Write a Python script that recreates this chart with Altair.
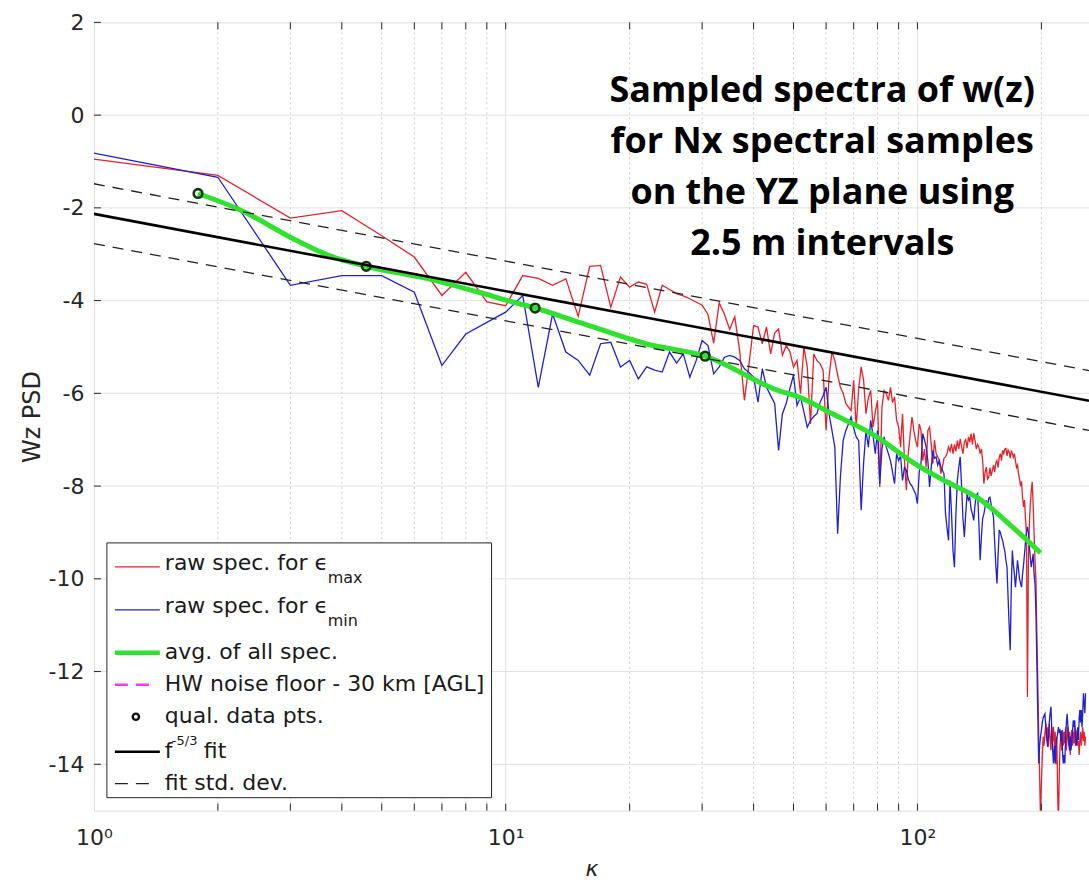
import altair as alt
import pandas as pd

# ---------------- data ----------------
k = list(range(1, 257))

red = [
    -0.95, -1.30, -2.22, -2.06, -2.60, -3.06, -3.89, -3.39, -4.03, -4.11,
    -3.46, -3.52, -3.67, -3.53, -4.34, -3.26, -3.24, -4.14, -3.49, -3.71,
    -3.60, -3.65, -4.25, -3.67, -3.76, -3.85, -3.90, -3.96, -4.03, -4.10,
    -4.30, -4.92, -4.05, -4.30, -4.62, -4.35, -5.08, -6.15, -5.36, -4.54,
    -4.57, -4.93, -4.57, -5.15, -4.70, -4.61, -5.18, -4.97, -5.10, -5.43,
    -5.29, -6.01, -5.00, -5.43, -6.66, -5.15, -5.29, -5.36, -5.50, -6.80,
    -5.65, -5.11, -5.29, -5.60, -5.87, -6.00, -6.22, -6.30, -6.37, -5.72,
    -6.73, -5.90, -5.43, -5.72, -6.44, -6.10, -5.94, -6.73, -6.40, -6.15,
    -8.02, -6.30, -5.94, -6.01, -6.15, -5.87, -6.20, -6.08, -6.58, -6.73,
    -7.16, -6.44, -7.45, -8.09, -7.30, -6.90, -6.51, -6.80, -7.02, -7.16,
    -6.66, -6.80, -7.45, -7.20, -7.59, -6.80, -6.73, -7.09, -7.52, -7.01,
    -7.30, -7.37, -7.45, -7.73, -7.59, -7.40, -7.37, -7.30, -7.16, -7.25,
    -7.09, -7.30, -7.10, -7.25, -7.02, -7.20, -6.98, -7.15, -7.30, -7.05,
    -7.00, -7.18, -6.94, -7.05, -6.87, -7.10, -6.86, -7.02, -7.20, -7.10,
    -7.16, -7.30, -7.20, -7.45, -7.95, -7.70, -7.59, -7.85, -7.81, -7.60,
    -7.78, -7.66, -7.55, -7.70, -7.50, -7.45, -7.60, -7.38, -7.30, -7.45,
    -7.23, -7.30, -7.20, -7.19, -7.35, -7.22, -7.27, -7.40, -7.23, -7.30,
    -7.38, -7.30, -7.45, -7.60, -7.55, -7.73, -7.85, -8.00, -7.90, -8.24,
    -8.45, -8.30, -8.70, -9.03, -12.55, -9.60, -8.81, -8.40, -8.10, -7.91,
    -8.40, -9.03, -9.60, -10.03, -11.20, -12.19, -13.34, -14.20, -15.20, -14.40,
    -13.84, -13.40, -13.60, -13.34, -13.10, -13.50, -13.20, -13.62, -13.12, -13.40,
    -13.70, -13.20, -13.50, -13.19, -13.62, -13.30, -14.00, -13.40, -14.60, -15.30,
    -14.20, -13.60, -13.30, -13.70, -13.26, -13.60, -13.30, -13.55, -13.20, -13.70,
    -13.40, -13.19, -13.60, -13.30, -13.80, -13.40, -13.26, -13.60, -13.30, -13.55,
    -13.20, -13.60, -13.40, -13.26, -13.60, -13.50, -13.80, -13.48, -13.30, -13.60,
    -13.40, -13.20, -13.50, -13.30, -13.60, -13.40,
]

blue = [
    -0.82, -1.34, -3.67, -3.46, -3.46, -3.82, -5.40, -4.72, -4.47, -4.25,
    -3.89, -5.87, -4.29, -5.11, -5.29, -5.61, -4.93, -4.90, -5.43, -5.29,
    -5.69, -5.43, -5.50, -5.54, -5.11, -5.35, -5.15, -5.65, -5.30, -4.86,
    -4.97, -5.58, -5.43, -5.22, -5.18, -5.22, -5.29, -5.47, -5.55, -5.65,
    -6.19, -5.47, -5.87, -6.05, -6.22, -7.23, -6.44, -6.22, -5.90, -5.61,
    -6.26, -6.08, -6.40, -6.73, -6.58, -6.50, -6.44, -6.20, -6.05, -5.87,
    -6.44, -6.80, -7.16, -9.03, -7.80, -7.02, -6.80, -6.66, -6.51, -6.75,
    -6.94, -7.02, -8.52, -7.50, -6.80, -7.16, -6.58, -6.90, -7.30, -6.80,
    -7.95, -7.20, -6.94, -7.16, -7.30, -7.45, -7.70, -7.95, -7.30, -7.45,
    -7.35, -7.88, -7.60, -7.66, -7.85, -7.95, -8.00, -8.09, -8.17, -8.38,
    -7.70, -7.52, -6.87, -7.00, -7.16, -7.45, -8.02, -7.60, -7.23, -7.40,
    -7.37, -7.55, -7.45, -7.59, -7.66, -7.73, -8.60, -8.90, -9.17, -7.88,
    -8.60, -9.40, -9.75, -8.60, -7.88, -7.60, -7.37, -8.00, -8.70, -9.10,
    -8.60, -8.16, -8.30, -8.24, -8.50, -8.60, -8.74, -8.40, -8.20, -8.16,
    -8.80, -9.60, -9.10, -8.70, -8.60, -8.45, -8.31, -8.45, -8.26, -8.24,
    -8.40, -8.55, -8.67, -9.20, -9.70, -10.10, -9.50, -8.95, -9.00, -9.10,
    -9.17, -9.30, -9.40, -9.60, -9.75, -10.40, -11.00, -11.54, -10.20, -9.39,
    -9.70, -9.90, -10.18, -9.90, -9.60, -9.80, -10.00, -10.10, -10.18, -9.90,
    -9.70, -9.46, -9.20, -9.00, -8.88, -9.00, -9.30, -9.55, -9.75, -9.60,
    -9.46, -9.90, -10.10, -10.75, -11.80, -12.91, -13.98, -13.60, -13.40, -13.27,
    -13.10, -13.00, -12.95, -12.91, -13.20, -13.40, -13.62, -13.40, -13.10, -12.90,
    -12.76, -13.30, -13.70, -13.98, -13.60, -13.98, -13.60, -13.45, -13.34, -13.20,
    -13.30, -13.27, -13.50, -13.27, -13.70, -13.98, -13.80, -13.98, -13.40, -13.10,
    -12.91, -13.20, -13.50, -13.70, -13.40, -13.70, -13.50, -13.30, -13.05, -13.20,
    -13.05, -13.40, -13.60, -13.48, -13.20, -13.48, -13.00, -12.83, -13.10, -12.83,
    -13.20, -12.90, -12.47, -12.70, -12.90, -12.47,
]

avg_k = [1.79, 2.26, 3.1, 3.73, 4.585, 6.5, 8.6, 10.4, 11.79, 15.1, 21.9, 30.5,
         46, 51.6, 62.1, 74.8, 80, 97, 116, 141, 170, 199]
avg_v = [-1.69, -2.04, -2.70, -3.03, -3.26, -3.53, -3.82, -4.03, -4.16, -4.47, -4.93, -5.20,
         -5.94, -6.08, -6.44, -6.80, -6.95, -7.48, -7.88, -8.27, -8.88, -9.44]

qual_k = [1.79, 4.585, 11.79, 30.5]
qual_v = [-1.69, -3.26, -4.16, -5.20]

fit_k = [1, 261]
fit_v = [-2.13, -6.16]
fit_hi = [-1.48, -5.51]
fit_lo = [-2.77, -6.80]

x_labels = ["10\u2070", "10\u00b9", "10\u00b2"]
x_label_vals = [1, 10, 100]
y_label_vals = [2, 0, -2, -4, -6, -8, -10, -12, -14]
x_minor = [2, 3, 4, 5, 6, 7, 8, 9, 20, 30, 40, 50, 60, 70, 80, 90, 200]
x_major = [10, 100]

title_lines = ["Sampled spectra of w(z)", "for Nx spectral samples",
               "on the YZ plane using", "2.5 m intervals"]

# ---------------- styling ----------------
RED = "#e4222a"
BLUE = "#2020d0"
GREEN = "#2ee22e"
AX = "#262626"
FONT = "DejaVu Sans"

label_expr = ("datum.value == 1 ? '%s' : datum.value == 10 ? '%s' : '%s'"
              % tuple(x_labels))

xs = alt.Scale(type="log", domain=[1, 261], nice=False)
ys = alt.Scale(domain=[-15, 2], nice=False, zero=False)

xaxis = alt.Axis(values=x_label_vals, labelExpr=label_expr, ticks=False, tickSize=0,
                 domain=False, grid=False, labelFontSize=22, labelFont=FONT,
                 labelColor=AX, labelPadding=17, labelFlush=False, labelOverlap=False,
                 title="\u03ba", titleFont=FONT, titleFontStyle="italic",
                 titleFontWeight="normal", titleFontSize=22, titleColor=AX,
                 titlePadding=10)
yaxis = alt.Axis(values=y_label_vals, labelExpr="'' + datum.value", ticks=False,
                 tickSize=0, domain=False, grid=False, labelFontSize=22, labelFont=FONT,
                 labelColor=AX, labelPadding=10, labelFlush=False, labelOverlap=False,
                 title="Wz PSD", titleFont=FONT, titleFontWeight="normal",
                 titleFontSize=24, titleColor=AX, titlePadding=4)


def X(f):
    return alt.X(f, type="quantitative", scale=xs, axis=xaxis)


def Y(f):
    return alt.Y(f, type="quantitative", scale=ys, axis=yaxis)


spec = pd.DataFrame({"k": k, "red": red, "blue": blue})
avg = pd.DataFrame({"k": avg_k, "v": avg_v})
qual = pd.DataFrame({"k": qual_k, "v": qual_v})
fit = pd.DataFrame({"k": fit_k, "v": fit_v, "hi": fit_hi, "lo": fit_lo})
one = pd.DataFrame({"o": [0]})

# grid
ygrid = alt.Chart(pd.DataFrame({"v": y_label_vals[1:]})).mark_rule(
    color="#e1e1e1", strokeWidth=1).encode(y=Y("v"))
xgrid_major = alt.Chart(pd.DataFrame({"v": x_major})).mark_rule(
    color="#e1e1e1", strokeWidth=1).encode(x=X("v"))
xgrid_minor = alt.Chart(pd.DataFrame({"v": x_minor})).mark_rule(
    color="#cdcdcd", strokeWidth=1, strokeDash=[2, 3]).encode(x=X("v"))

# inward ticks
xt = pd.DataFrame({"v": x_minor + x_major})
tick_bottom = alt.Chart(xt).mark_rule(color=AX, strokeWidth=1).encode(
    x=X("v"), y=alt.value(789), y2=alt.value(782))
tick_top = alt.Chart(xt).mark_rule(color=AX, strokeWidth=1).encode(
    x=X("v"), y=alt.value(0), y2=alt.value(7))
tick_left = alt.Chart(pd.DataFrame({"v": y_label_vals})).mark_rule(
    color=AX, strokeWidth=1).encode(y=Y("v"), x=alt.value(0), x2=alt.value(7))

# data layers
red_line = alt.Chart(spec).mark_line(color=RED, strokeWidth=1.3, clip=True).encode(
    x=X("k"), y=Y("red"))
blue_line = alt.Chart(spec).mark_line(color=BLUE, strokeWidth=1.3, clip=True).encode(
    x=X("k"), y=Y("blue"))
avg_line = alt.Chart(avg).mark_line(color=GREEN, strokeWidth=5, clip=True,
                                    interpolate="monotone").encode(x=X("k"), y=Y("v"))
qual_pts = alt.Chart(qual).mark_point(shape="circle", size=75, filled=False,
                                      color="#123812", strokeWidth=2.6,
                                      opacity=1).encode(x=X("k"), y=Y("v"))
fit_line = alt.Chart(fit).mark_line(color="black", strokeWidth=2.6, clip=True).encode(
    x=X("k"), y=Y("v"))
fit_hi_line = alt.Chart(fit).mark_line(color="#222222", strokeWidth=1.3,
                                       strokeDash=[11, 8], clip=True).encode(
    x=X("k"), y=Y("hi"))
fit_lo_line = alt.Chart(fit).mark_line(color="#222222", strokeWidth=1.3,
                                       strokeDash=[11, 8], clip=True).encode(
    x=X("k"), y=Y("lo"))

# legend
box = alt.Chart(one).mark_rect(fill="white", stroke=AX, strokeWidth=1).encode(
    x=alt.value(13), x2=alt.value(398), y=alt.value(521), y2=alt.value(776))


def lg_line(y, color, width, x2=66, dash=None):
    kw = dict(color=color, strokeWidth=width)
    if dash is not None:
        kw["strokeDash"] = dash
    return alt.Chart(one).mark_rule(**kw).encode(
        x=alt.value(21), x2=alt.value(x2), y=alt.value(y))


def lg_text(txt, x, y, size=22):
    return alt.Chart(one).mark_text(text=txt, align="left", baseline="alphabetic",
                                    font=FONT, fontSize=size, color="#1a1a1a").encode(
        x=alt.value(x), y=alt.value(y))


legend = [
    box,
    lg_line(545, RED, 1.2),
    lg_text("raw spec. for \u03f5", 71, 548),
    lg_text("max", 234, 561, 16),
    lg_line(588, BLUE, 1.2),
    lg_text("raw spec. for \u03f5", 71, 591),
    lg_text("min", 234, 604, 16),
    lg_line(631, GREEN, 4.5),
    lg_text("avg. of all spec.", 71, 637),
    lg_line(663, "#f03cf0", 2.5, x2=55, dash=[13, 8]),
    lg_text("HW noise floor - 30 km [AGL]", 71, 669),
    alt.Chart(one).mark_point(shape="circle", size=40, filled=False, color="#111111",
                              strokeWidth=2.4, opacity=1).encode(
        x=alt.value(42), y=alt.value(695)),
    lg_text("qual. data pts.", 71, 701),
    lg_line(730, "black", 2.6),
    lg_text("f", 71, 736),
    lg_text("-5/3", 78, 723, 13),
    lg_text("fit", 110, 736),
    lg_line(762, "#222222", 1.2, x2=55, dash=[13, 8]),
    lg_text("fit std. dev.", 71, 768),
]

note = alt.Chart(one).mark_text(text=title_lines, align="center", baseline="alphabetic",
                                font="Open Sans", fontWeight="bold", fontSize=36,
                                lineHeight=51, color="black").encode(
    x=alt.value(729), y=alt.value(80))

chart = alt.layer(
    ygrid, xgrid_major, xgrid_minor,
    red_line, blue_line, avg_line, qual_pts, fit_line, fit_hi_line, fit_lo_line,
    tick_bottom, tick_top, tick_left,
    *legend, note,
).properties(
    width=996, height=789,
    autosize=alt.AutoSizeParams(type="none"),
    padding={"left": 94, "top": 22, "right": 0, "bottom": 76},
).configure_view(stroke=AX, strokeWidth=1).configure(background="white")

chart.save("out.html", embed_options={"renderer": "svg", "actions": False})
